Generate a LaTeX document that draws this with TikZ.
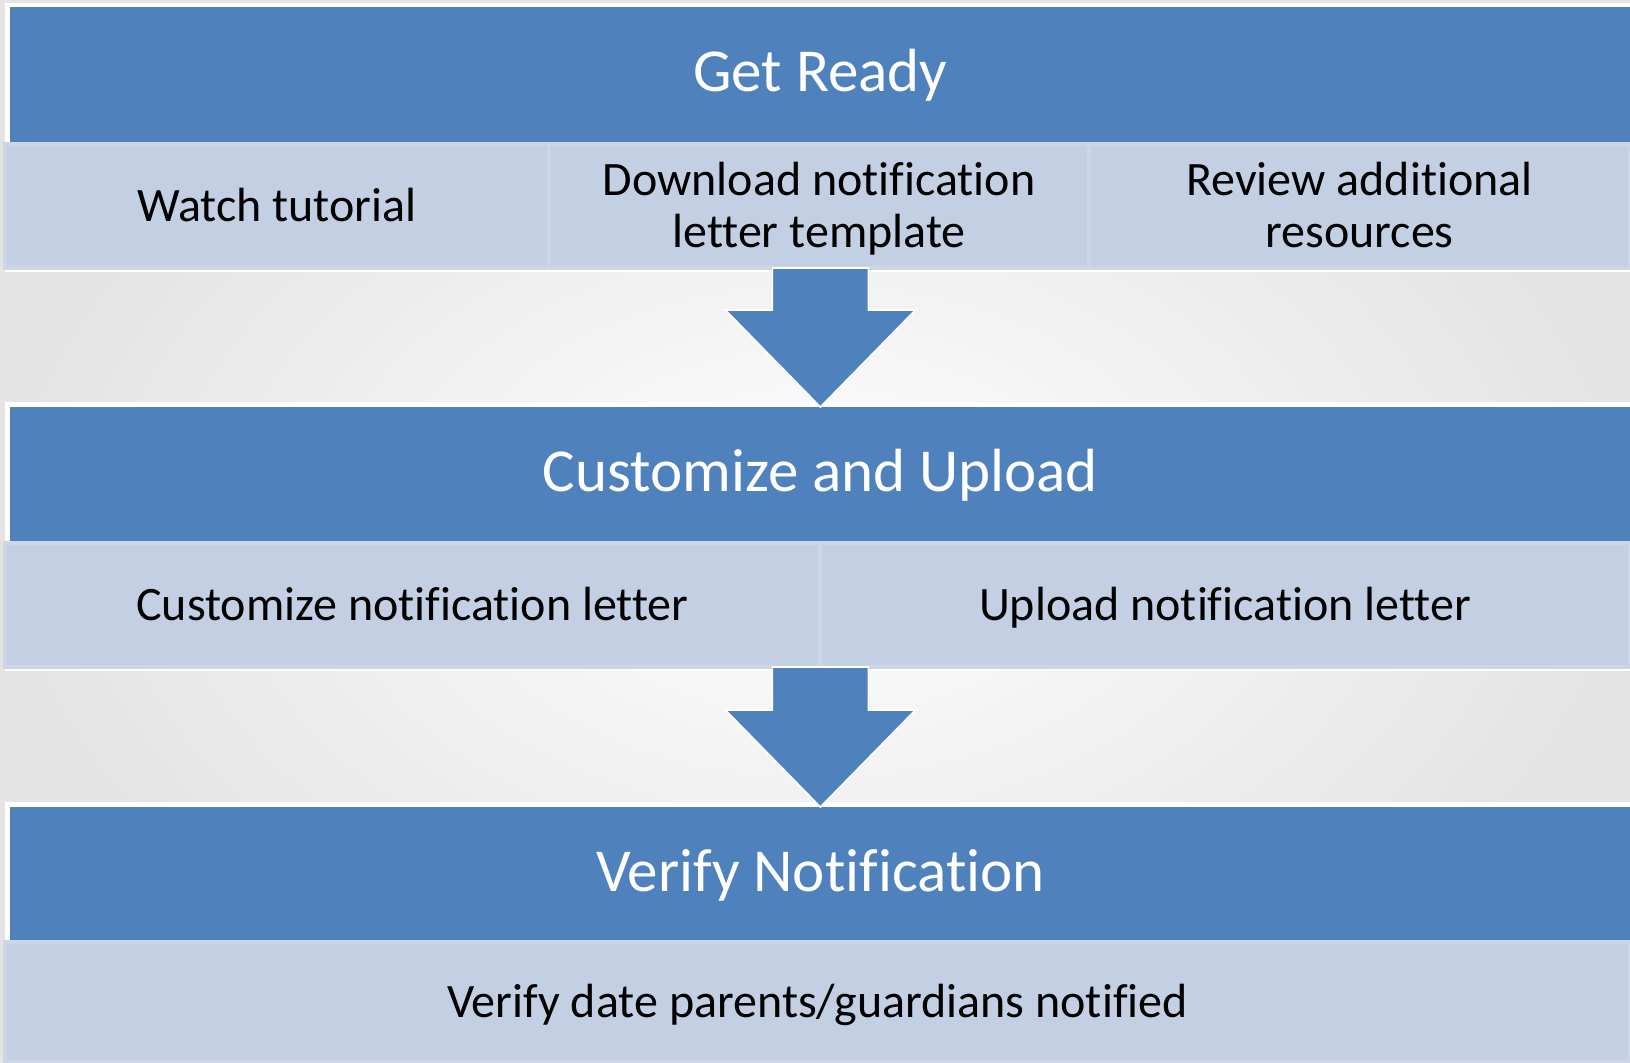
\documentclass[tikz,border=0pt]{standalone}
\usepackage{fontspec}
\setmainfont{Carlito}[Ligatures=NoCommon]
\usetikzlibrary{positioning,calc}

\definecolor{barblue}{HTML}{4F81BD}
\definecolor{cellblue}{HTML}{C3CFE2}
\definecolor{celledge}{HTML}{CCD6E7}
\definecolor{bggray}{HTML}{E4E4E4}

\begin{document}
\begin{tikzpicture}
    [x=0.5pt, y=-0.5pt,
     bar/.style={fill=barblue,anchor=north west,inner sep=0,minimum width=810pt,
                 minimum height=68pt,text=white,font=\fontsize{30.5}{36}\selectfont},
     cell/.style={fill=cellblue,draw=celledge,line width=2pt,anchor=north west,inner sep=0,
                  outer sep=0,minimum height=62pt,align=center,font=\fontsize{24}{26}\selectfont},
     oneline/.style={text height=18pt,text depth=3pt},
     twoline/.style={text height=44.2pt,text depth=3pt},
     backing/.style={fill=white},
     downarrow/.style={fill=barblue,draw=white,line width=0.8pt}]
    \useasboundingbox (0, 0) rectangle (1630, 1062);

    % Background
    \shade [inner color=white, outer color=bggray] (0, 0) rectangle (1630, 1062);
    \fill [backing] (5, 3) rectangle (1630, 272);
    \fill [backing] (5, 402) rectangle (1630, 671);
    \fill [backing] (5, 802) rectangle (1630, 1062);

    % Get Ready
    \node (ready) at (10, 7) [bar] {Get Ready};
    \node (watch) at (5, 144) [cell, oneline, minimum width=272pt] {Watch tutorial};
    \node (dltpl) [cell, twoline, minimum width=270pt, right=0 of watch]
    {\strut Download notification\\letter template\strut};
    \node (review) [cell, twoline, minimum width=270.5pt, right=0 of dltpl]
    {\strut Review additional\\resources\strut};

    % Customize and Upload
    \node (custup) at (10, 407) [bar] {Customize and Upload};
    \node (custlet) at (5, 543) [cell, oneline, minimum width=407.5pt]
    {Customize notification letter};
    \node (uplet) [cell, oneline, minimum width=405pt, right=0 of custlet]
    {Upload notification letter};

    % Verify Notification
    \node (verify) at (10, 807) [bar] {Verify Notification};
    \node (verdate) at (5, 942) [cell, oneline, minimum width=812.5pt, minimum height=60pt]
    {Verify date parents/guardians notified};

    % Arrows
    \coordinate (a1top) at (custup.north |- dltpl.south);
    \filldraw [downarrow] ($(a1top) + (-48, 0)$) -- ($(custup.north) + (-48, -97)$)
        -- ($(custup.north) + (-95, -97)$) -- (custup.north)
        -- ($(custup.north) + (95, -97)$) -- ($(custup.north) + (48, -97)$)
        -- ($(a1top) + (48, 0)$) -- cycle;
    \coordinate (a2top) at (verify.north |- custlet.south);
    \filldraw [downarrow] ($(a2top) + (-48, 0)$) -- ($(verify.north) + (-48, -97)$)
        -- ($(verify.north) + (-95, -97)$) -- (verify.north)
        -- ($(verify.north) + (95, -97)$) -- ($(verify.north) + (48, -97)$)
        -- ($(a2top) + (48, 0)$) -- cycle;
\end{tikzpicture}
\end{document}
